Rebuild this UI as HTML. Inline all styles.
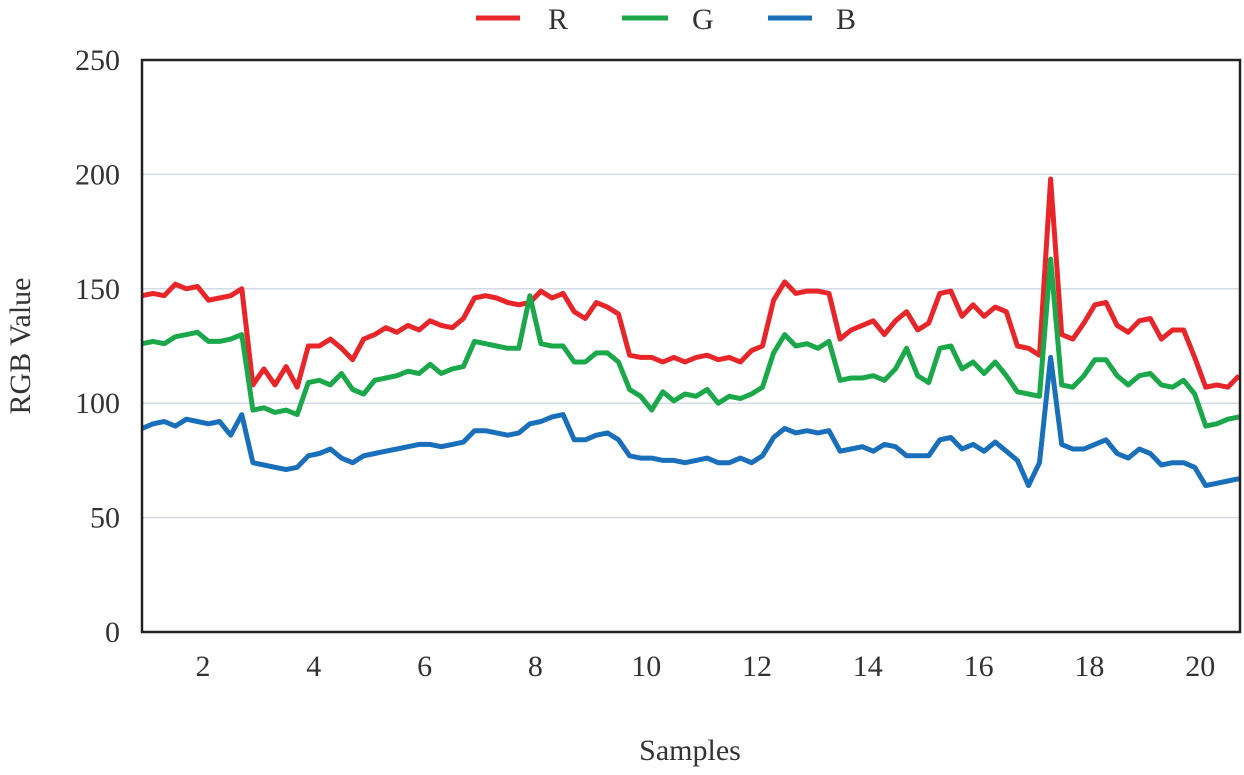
<!DOCTYPE html>
<html><head><meta charset="utf-8"><style>
body{margin:0;background:#fff;}
svg{display:block;font-family:"Liberation Serif",serif;}
</style></head><body>
<svg id="chart" width="1244" height="775" xmlns="http://www.w3.org/2000/svg">
<g id="grid"></g>
<g id="yticks"></g>
<g id="xticks"></g>
<g id="series"></g>
<rect x="142" y="60" width="1098" height="572" fill="none" stroke="#222" stroke-width="2.5"/>
<text x="690" y="760" font-size="30" text-anchor="middle" fill="#333">Samples</text>
<text transform="translate(30,346) rotate(-90)" font-size="30" text-anchor="middle" fill="#333">RGB Value</text>
<g>
<g><line x1="476" y1="18" x2="520" y2="18" stroke="#e8262a" stroke-width="5"/><text x="548" y="29" font-size="30" fill="#333">R</text></g>
<g><line x1="622" y1="18" x2="668" y2="18" stroke="#1ba84a" stroke-width="5"/><text x="692" y="29" font-size="30" fill="#333">G</text></g>
<g><line x1="768" y1="18" x2="812" y2="18" stroke="#1a6fba" stroke-width="5"/><text x="836" y="29" font-size="30" fill="#333">B</text></g>
</g>
</svg>
<script>
const yTicks=[0,50,100,150,200,250];
const xTicks=[2,4,6,8,10,12,14,16,18,20];
const xStart=0.9, xStep=0.2;
const rValues=[147,148,147,152,150,151,145,146,147,150,108,115,108,116,107,125,125,128,124,119,128,130,133,131,134,132,136,134,133,137,146,147,146,144,143,144,149,146,148,140,137,144,142,139,121,120,120,118,120,118,120,121,119,120,118,123,125,145,153,148,149,149,148,128,132,134,136,130,136,140,132,135,148,149,138,143,138,142,140,125,124,121,198,130,128,135,143,144,134,131,136,137,128,132,132,120,107,108,107,112];
const gValues=[126,127,126,129,130,131,127,127,128,130,97,98,96,97,95,109,110,108,113,106,104,110,111,112,114,113,117,113,115,116,127,126,125,124,124,147,126,125,125,118,118,122,122,118,106,103,97,105,101,104,103,106,100,103,102,104,107,122,130,125,126,124,127,110,111,111,112,110,115,124,112,109,124,125,115,118,113,118,112,105,104,103,163,108,107,112,119,119,112,108,112,113,108,107,110,104,90,91,93,94];
const bValues=[89,91,92,90,93,92,91,92,86,95,74,73,72,71,72,77,78,80,76,74,77,78,79,80,81,82,82,81,82,83,88,88,87,86,87,91,92,94,95,84,84,86,87,84,77,76,76,75,75,74,75,76,74,74,76,74,77,85,89,87,88,87,88,79,80,81,79,82,81,77,77,77,84,85,80,82,79,83,79,75,64,74,120,82,80,80,82,84,78,76,80,78,73,74,74,72,64,65,66,67];
const NS='http://www.w3.org/2000/svg';
const X0=142,X1=1240,Y0=632,Y1=60;
const xScale=v=>147.6+(v-1)*55.4;
const yScale=v=>Y0-(v/250)*(Y0-Y1);
const grid=document.getElementById('grid'),yt=document.getElementById('yticks'),xt=document.getElementById('xticks'),ser=document.getElementById('series');
yTicks.forEach(t=>{
 if(t>0&&t<250){const l=document.createElementNS(NS,'line');
 
 
 l.setAttribute('x1',X0);l.setAttribute('x2',X1);l.setAttribute('y1',yScale(t));l.setAttribute('y2',yScale(t));
 l.setAttribute('stroke','#d3dbe6');l.setAttribute('stroke-width','1.5');grid.appendChild(l);}
 const tx=document.createElementNS(NS,'text');
 
 
 tx.setAttribute('x',120);tx.setAttribute('y',yScale(t)+10);tx.setAttribute('text-anchor','end');tx.setAttribute('font-size','30');tx.setAttribute('fill','#333');
 tx.textContent=t;yt.appendChild(tx);
});
xTicks.forEach(t=>{
 const tx=document.createElementNS(NS,'text');
 
 
 tx.setAttribute('x',xScale(t));tx.setAttribute('y',676);tx.setAttribute('text-anchor','middle');tx.setAttribute('font-size','30');tx.setAttribute('fill','#333');
 tx.textContent=t;xt.appendChild(tx);
});
[['r',rValues,'#e8262a'],['g',gValues,'#1ba84a'],['b',bValues,'#1a6fba']].forEach(([n,vals,c])=>{
 const p=document.createElementNS(NS,'path');
 
 
 p.setAttribute('d',vals.map((v,i)=>(i?'L':'M')+xScale(xStart+i*xStep).toFixed(1)+','+yScale(v).toFixed(1)).join(''));
 p.setAttribute('fill','none');p.setAttribute('stroke',c);p.setAttribute('stroke-width','5');p.setAttribute('stroke-linejoin','round');
 ser.appendChild(p);
});
</script>
</body></html>
